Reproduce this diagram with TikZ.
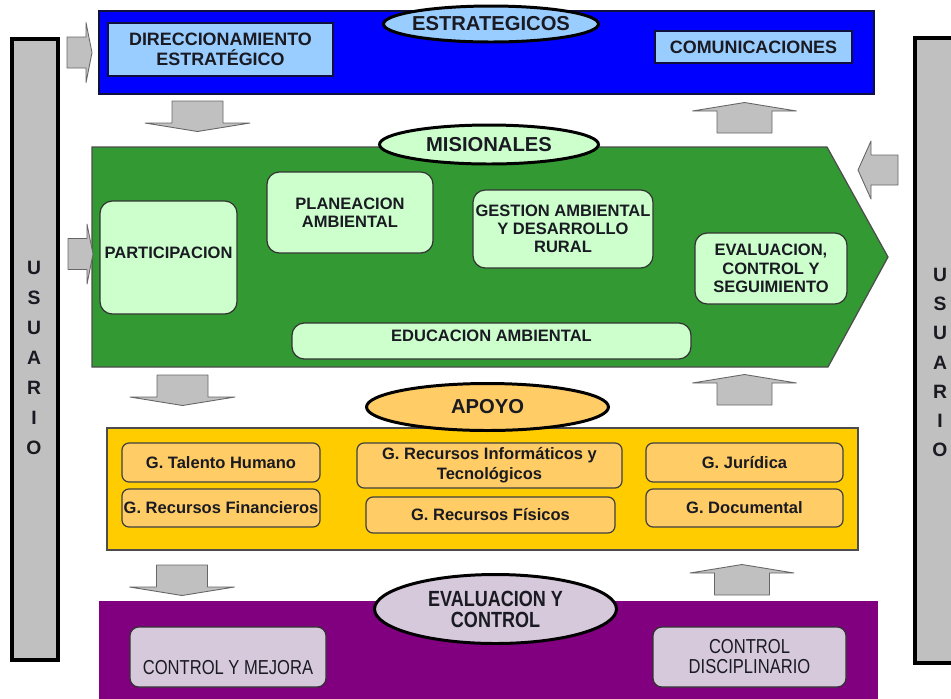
\documentclass[tikz,border=0pt]{standalone}
\usepackage{fontspec}
\setmainfont{Liberation Sans}
\newfontfamily\narrowsf[FakeStretch=0.82]{Liberation Sans}
\usepackage{xcolor}
\usepackage{tikz}
\usetikzlibrary{shapes.geometric}
\definecolor{estblue}{HTML}{0000FF}
\definecolor{navyln}{HTML}{101040}
\definecolor{lblue}{HTML}{99CCFF}
\definecolor{misgreen}{HTML}{339933}
\definecolor{lgreen}{HTML}{CCFFCC}
\definecolor{apyellow}{HTML}{FFCC00}
\definecolor{aporange}{HTML}{FFCC66}
\definecolor{evpurple}{HTML}{800080}
\definecolor{lpurple}{HTML}{D7C9DC}
\definecolor{arrgray}{HTML}{C0C0C0}
\definecolor{txtdark}{HTML}{1A1A22}
\tikzset{
  band/.style={draw=#1,line width=0.7pt,inner sep=0pt},
  estbox/.style={draw=navyln,line width=1pt,fill=lblue,align=center,inner sep=1pt,text=txtdark,font=\bfseries\fontsize{10.2}{11.4}\selectfont},
  misbox/.style={draw=black!80,line width=0.7pt,fill=lgreen,rounded corners=7pt,align=center,inner sep=1pt,text=txtdark,font=\bfseries\fontsize{9.4}{10.4}\selectfont},
  apbox/.style={draw=black!75,line width=0.7pt,fill=aporange,rounded corners=4pt,align=center,inner sep=1pt,text=txtdark,font=\bfseries\fontsize{9.4}{11.4}\selectfont},
  evbox/.style={draw=black!80,line width=0.7pt,fill=lpurple,rounded corners=5pt,align=center,inner sep=1pt,text=txtdark,font=\narrowsf\fontsize{11.5}{11.4}\selectfont},
  hdr/.style={ellipse,draw=black,line width=1.7pt,fill=#1,inner xsep=-25pt,inner ysep=0pt,text=txtdark,font=\bfseries\fontsize{11.5}{13}\selectfont},
  usrbar/.style={draw=black,line width=2.3pt,fill=arrgray,inner sep=0pt},
  usrtxt/.style={align=center,inner sep=0pt,text=txtdark,font=\bfseries\fontsize{11}{#1}\selectfont},
  blockarr/.style={fill=arrgray,draw=black!60,line width=0.5pt,line join=round}
}
% box from pixel corners: name, style, x1, y1, x2, y2, text
\newcommand{\pbox}[7]{\node[#2,minimum width={(#5-#3)*0.02cm},minimum height={(#6-#4)*0.02cm}] (#1) at ({(#3+#5)/2},{(#4+#6)/2}) {#7};}
\newcommand{\arrdown}[2]{\draw[blockarr] (#1-25.5,#2) -- (#1+25.5,#2) -- (#1+25.5,#2+22) -- (#1+52.5,#2+22) -- (#1,#2+30.5) -- (#1-52.5,#2+22) -- (#1-25.5,#2+22) -- cycle;}
\newcommand{\arrup}[2]{\draw[blockarr] (#1-27.5,#2) -- (#1+27.5,#2) -- (#1+27.5,#2-22) -- (#1+52,#2-22) -- (#1,#2-30.5) -- (#1-52,#2-22) -- (#1-27.5,#2-22) -- cycle;}
\newcommand{\arrright}[2]{\draw[blockarr] (#1,#2-15.5) -- (#1+19,#2-15.5) -- (#1+19,#2-30) -- (#1+25,#2) -- (#1+19,#2+30) -- (#1+19,#2+15.5) -- (#1,#2+15.5) -- cycle;}
\newcommand{\arrleft}[2]{\draw[blockarr] (#1,#2-15) -- (#1-27,#2-15) -- (#1-27,#2-29) -- (#1-40,#2) -- (#1-27,#2+29) -- (#1-27,#2+15) -- (#1,#2+15) -- cycle;}

\begin{document}
\begin{tikzpicture}[x=0.02cm,y=-0.02cm]
\clip (0,0) rectangle (951,698);
\fill[white] (0,0) rectangle (951,698);

% usuario bars
\pbox{usrL}{usrbar}{12}{39}{58}{660}{}
\pbox{usrR}{usrbar}{915}{38}{961}{663}{}
\node[usrtxt=17.1pt] (usrLt) at (34,358) {U\\S\\U\\A\\R\\I\\O};
\node[usrtxt=16.6pt] (usrRt) at (940,362.5) {U\\S\\U\\A\\R\\I\\O};

% estrategicos
\pbox{estr}{band=navyln,fill=estblue}{99}{11}{874}{94}{}
\pbox{direc}{estbox}{108}{23}{333}{76}{DIRECCIONAMIENTO\\ESTRAT\'EGICO}
\pbox{comun}{estbox}{655}{31}{852}{63}{COMUNICACIONES}
\node[hdr=lblue,minimum width=4.3cm,minimum height=0.72cm] (estrH) at (491,24) {ESTRATEGICOS};

% misionales
\draw[fill=misgreen,draw=black!70,line width=0.7pt] (92,147) -- (827,147) -- (888,257) -- (828,367) -- (92,367) -- cycle;
\node[hdr=lgreen,minimum width=4.38cm,minimum height=0.78cm] (misH) at (489,144.5) {MISIONALES};
\pbox{partic}{misbox,text height=7pt,text depth=6pt}{100}{201}{237}{314}{PARTICIPACION}
\pbox{planea}{misbox}{267}{172}{433}{253}{PLANEACION\\AMBIENTAL}
\pbox{gestion}{misbox}{473}{190}{653}{268}{GESTION AMBIENTAL\\Y DESARROLLO\\RURAL}
\pbox{evalua}{misbox}{695}{233}{847}{304}{EVALUACION,\\CONTROL Y\\SEGUIMIENTO}
\pbox{educa}{misbox,text height=7pt,text depth=7pt}{292}{323}{691}{359}{EDUCACION AMBIENTAL}

% apoyo
\pbox{apoyo}{band=black!70,fill=apyellow}{107}{428}{858}{550}{}
\node[hdr=aporange,minimum width=4.84cm,minimum height=0.94cm] (apoyoH) at (487.5,407) {APOYO};
\pbox{talento}{apbox}{122}{443}{320}{482}{G. Talento Humano}
\pbox{financ}{apbox}{122}{489}{320}{527}{G. Recursos Financieros}
\pbox{inform}{apbox}{357}{443}{622}{488}{G. Recursos Inform\'aticos y\\Tecnol\'ogicos}
\pbox{fisic}{apbox}{366}{497}{615}{533}{G. Recursos F\'isicos}
\pbox{jurid}{apbox}{646}{443}{843}{482}{G. Jur\'idica}
\pbox{docum}{apbox}{646}{489}{843}{527}{G. Documental}

% evaluacion y control
\pbox{evctl}{band=evpurple,fill=evpurple}{100}{602}{877}{700}{}
\node[hdr=lpurple,font=\narrowsf\bfseries\fontsize{12.5}{12}\selectfont,align=center,minimum width=4.84cm,minimum height=1.38cm] (evctlH) at (495.5,609) {EVALUACION Y\\CONTROL};
\pbox{mejora}{evbox,text height=19.6pt,text depth=0pt}{130}{627}{326}{687}{CONTROL Y MEJORA}
\pbox{discip}{evbox}{653}{627}{846}{687}{CONTROL\\DISCIPLINARIO}

% flechas
\arrright{67}{52.5}
\arrright{68}{254}
\arrleft{898}{170}
\arrdown{197.5}{101}
\arrdown{182.5}{375}
\arrdown{182}{565}
\arrup{744.5}{133}
\arrup{744.5}{405}
\arrup{742}{595}
\end{tikzpicture}
\end{document}
